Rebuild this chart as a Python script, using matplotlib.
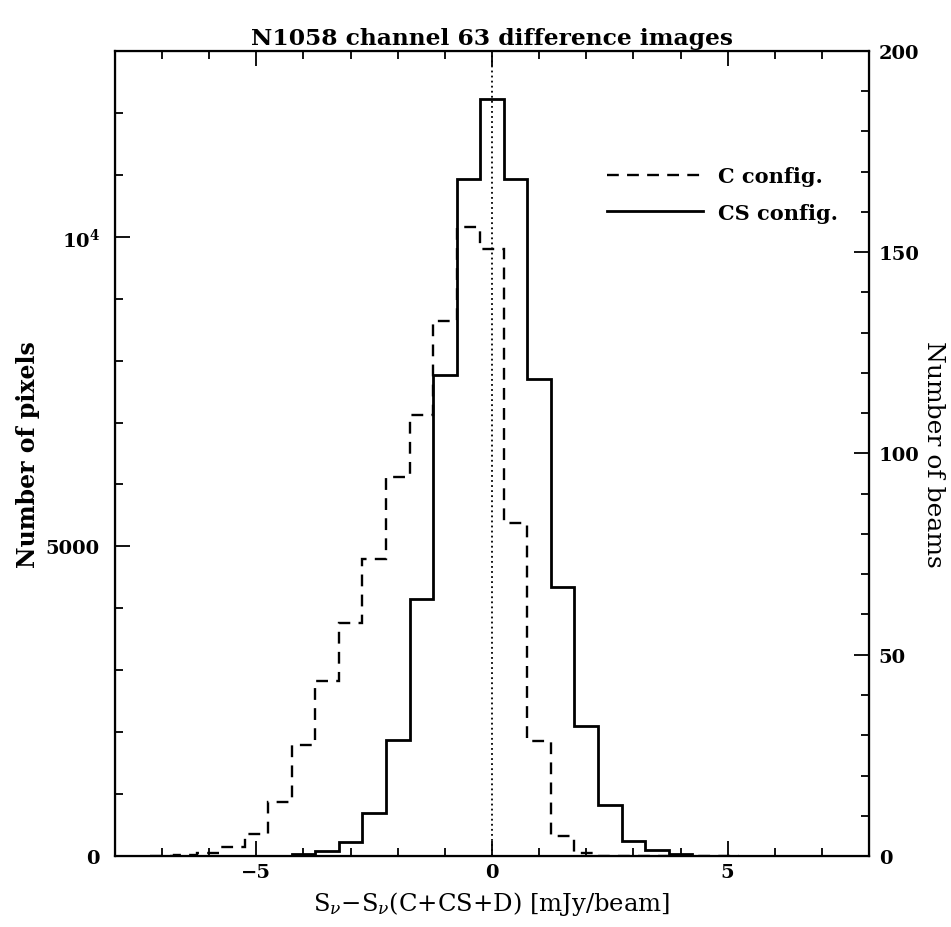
import numpy as np
import matplotlib
matplotlib.use("Agg")
import matplotlib.pyplot as plt
from matplotlib.ticker import MultipleLocator, FixedLocator, FixedFormatter

# histogram bins of the difference images (mJy/beam), width 0.5
bin_centres = [-7.0, -6.5, -6.0, -5.5, -5.0, -4.5, -4.0, -3.5, -3.0, -2.5, -2.0, -1.5, -1.0,
               -0.5, 0.0, 0.5, 1.0, 1.5, 2.0, 2.5, 3.0, 3.5, 4.0, 4.5, 5.0]
bin_width = 0.5

# pixel counts per bin
counts_C = [0, 15, 50, 140, 360, 880, 1800, 2830, 3770, 4800, 6120, 7120, 8640,
            10150, 9800, 5370, 1860, 330, 50, 0, 0, 0, 0, 0, 0]
counts_CS = [0, 0, 0, 0, 0, 0, 30, 80, 225, 700, 1880, 4150, 7770,
             10930, 12230, 10930, 7700, 4340, 2100, 825, 245, 95, 25, 0, 0]

labels = ["C config.", "CS config."]
title = "N1058 channel 63 difference images"

plt.rcParams["font.family"] = "DejaVu Serif"
plt.rcParams["mathtext.fontset"] = "dejavuserif"

centres = np.array(bin_centres)
edges = np.append(centres - bin_width / 2, centres[-1] + bin_width / 2)

fig = plt.figure(figsize=(9.51, 9.28), dpi=100)
ax = fig.add_axes([0.1209, 0.0765, 0.7929, 0.8675])

ax.stairs(counts_C, edges, baseline=0, color="black", lw=1.7,
          linestyle=(0, (5, 3.5)), label=labels[0])
ax.stairs(counts_CS, edges, baseline=0, color="black", lw=2.0, label=labels[1])
ax.axvline(0, color="black", lw=1.3, linestyle=(0, (1, 1.8)))

ax.set_xlim(-8, 8)
ax.set_ylim(0, 13000)

ax.xaxis.set_major_locator(MultipleLocator(5))
ax.xaxis.set_minor_locator(MultipleLocator(1))
ax.yaxis.set_major_locator(FixedLocator([0, 5000, 10000]))
ax.yaxis.set_major_formatter(FixedFormatter(["0", "5000", r"$\mathbf{10^4}$"]))
ax.yaxis.set_minor_locator(MultipleLocator(1000))

ax.tick_params(which="both", direction="in", top=True, right=False, width=1.3,
               labelsize=14)
ax.tick_params(axis="x", pad=5)
ax.tick_params(axis="y", pad=11)
ax.tick_params(which="major", length=11)
ax.tick_params(which="minor", length=5.5)
for lab in ax.get_xticklabels() + ax.get_yticklabels():
    lab.set_fontweight("bold")
for sp in ax.spines.values():
    sp.set_linewidth(1.6)

ax2 = ax.twinx()
ax2.set_ylim(0, 200)
ax2.yaxis.set_major_locator(MultipleLocator(50))
ax2.yaxis.set_minor_locator(MultipleLocator(10))
ax2.tick_params(which="both", direction="in", width=1.3, labelsize=14, pad=7)
ax2.tick_params(which="major", length=11)
ax2.tick_params(which="minor", length=5.5)
for lab in ax2.get_yticklabels():
    lab.set_fontweight("bold")

ax.set_title(title, fontsize=16.8, fontweight="bold", pad=5)
ax.set_xlabel(r"S$_\nu$$-$S$_\nu$(C+CS+D) [mJy/beam]", fontsize=17.5, labelpad=6)
ax.set_ylabel("Number of pixels", fontsize=17, fontweight="bold", labelpad=4)
ax2.set_ylabel("Number of beams", fontsize=18, rotation=270, labelpad=18)

leg = ax.legend(loc="upper left", bbox_to_anchor=(0.6525, 0.857), frameon=False,
                borderaxespad=0, borderpad=0,
                handlelength=4.6, handletextpad=0.75, labelspacing=0.8,
                prop={"size": 15, "weight": "bold"})

fig.savefig("out.png", dpi=100)
